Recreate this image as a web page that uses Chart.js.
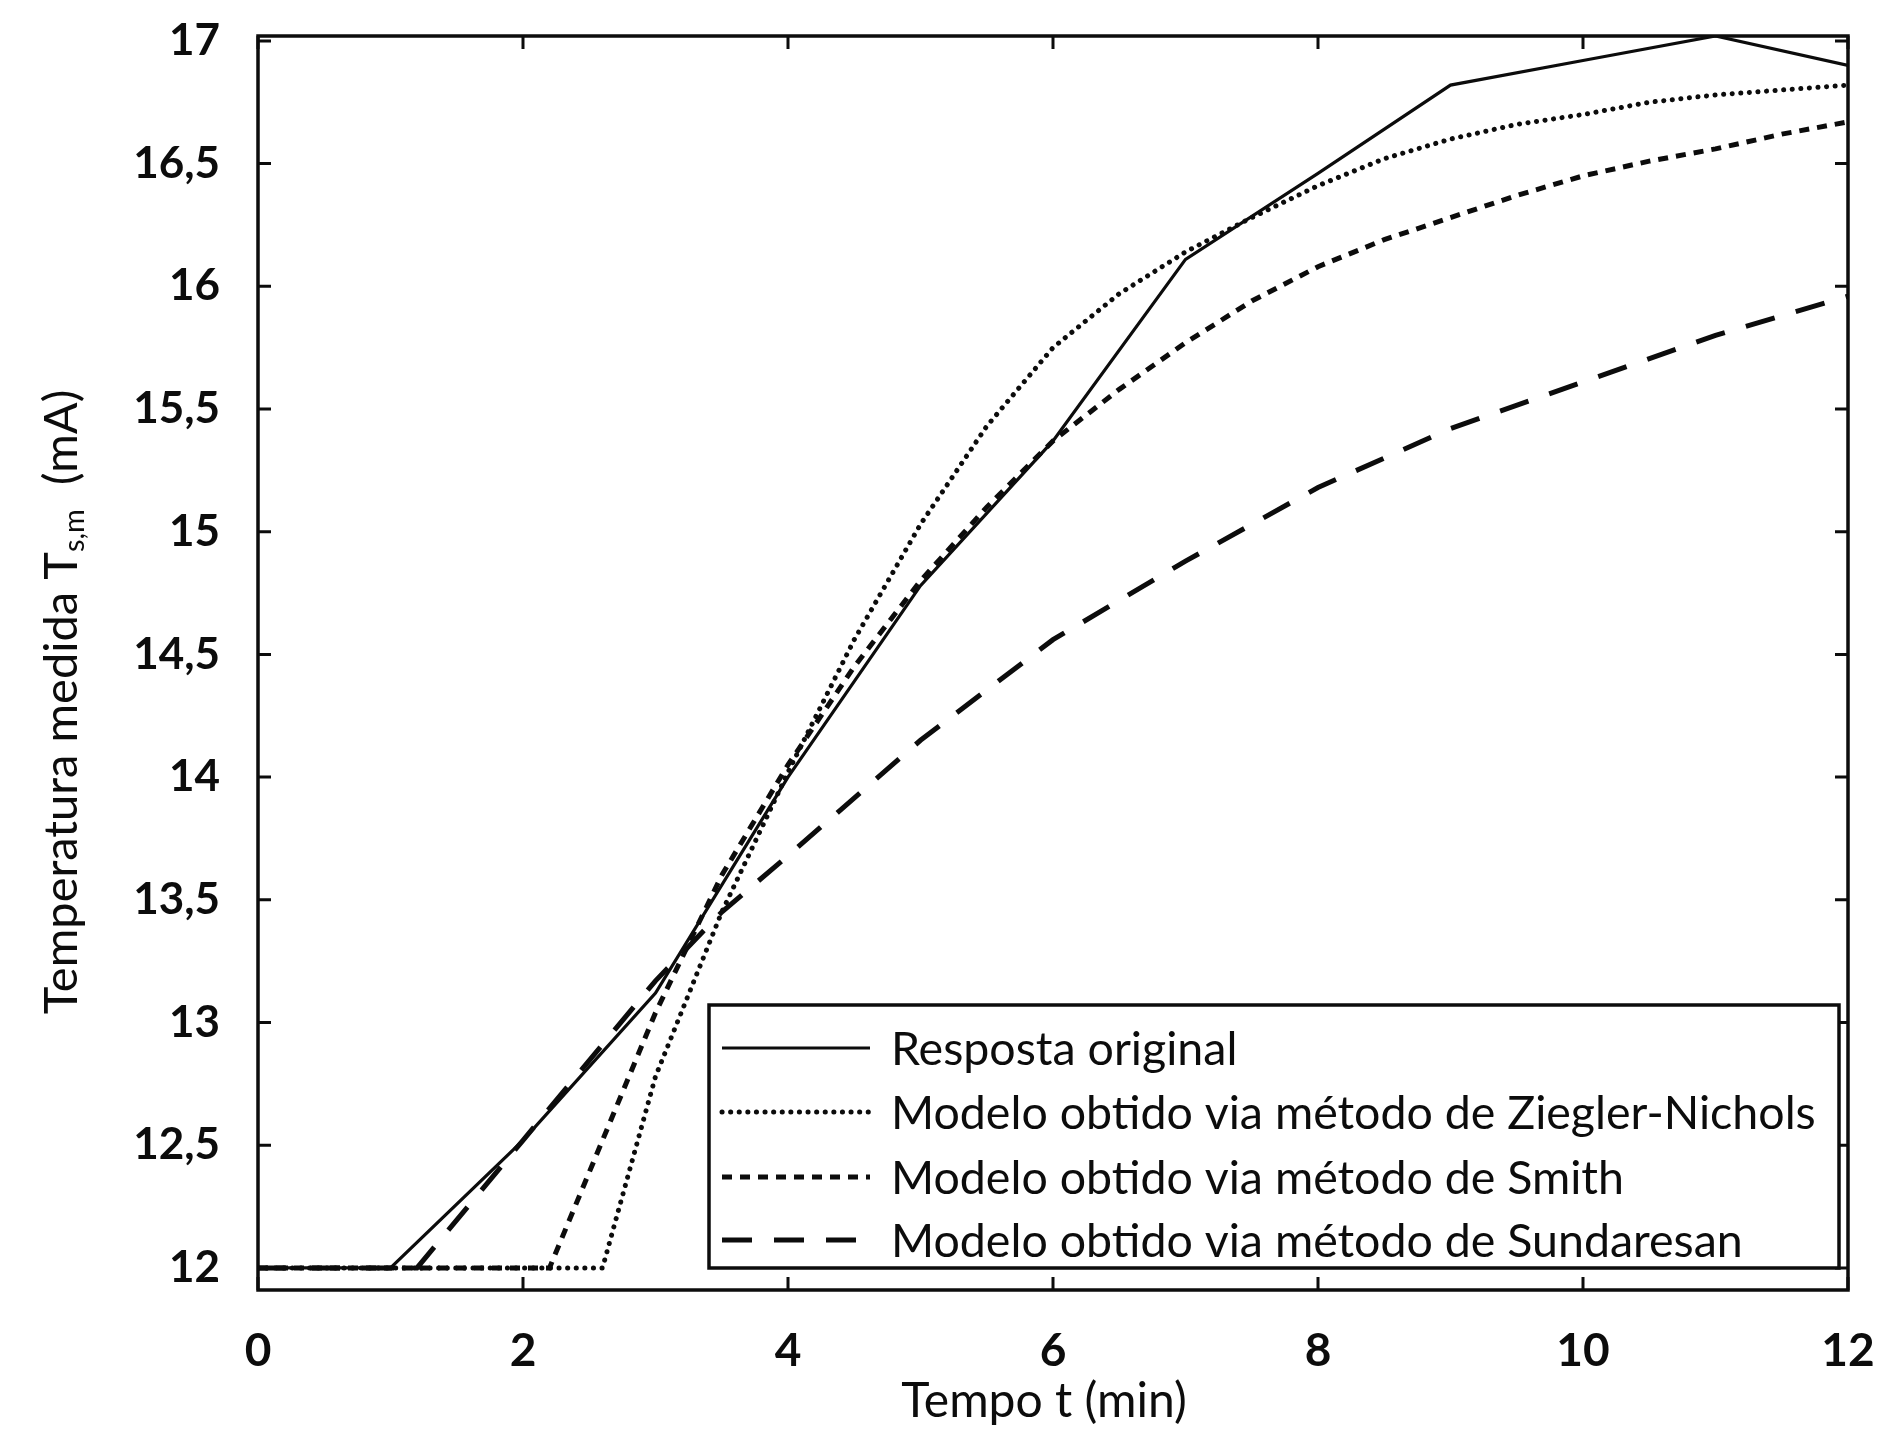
<!DOCTYPE html>
<html>
<head>
<meta charset="utf-8">
<script src="https://cdn.jsdelivr.net/npm/chart.js@4/dist/chart.umd.min.js"></script>
<style>
  html, body { margin: 0; padding: 0; background: #fff; }
  #wrap { width: 1881px; height: 1429px; }
</style>
</head>
<body>
<div id="wrap"><canvas id="resp" width="1881" height="1429"></canvas></div>
<script>
/* ── DADOS ─────────────────────────────────────────────── */
const tempoOriginal = [0, 1, 2, 3, 4, 5, 6, 7, 8, 9, 10, 11, 12];
const respostaOriginal = [12, 12, 12.52, 13.12, 14.0, 14.78, 15.37, 16.11, 16.46, 16.82, 16.92, 17.02, 16.9];

const tempoZN = [0, 2.6, 3, 3.5, 4, 4.5, 5, 5.5, 6, 6.5, 7, 7.5, 8, 8.5, 9, 9.5, 10, 10.5, 11, 11.5, 12];
const zieglerNichols = [12, 12, 12.78, 13.45, 14.02, 14.56, 15.03, 15.43, 15.75, 15.97, 16.14, 16.28, 16.41, 16.52, 16.6, 16.66, 16.7, 16.75, 16.78, 16.8, 16.82];

const tempoSmith = [0, 2.2, 2.5, 3, 3.5, 4, 4.5, 5, 5.5, 6, 6.5, 7, 7.5, 8, 8.5, 9, 9.5, 10, 10.5, 11, 11.5, 12];
const smith = [12, 12, 12.39, 13.04, 13.6, 14.05, 14.45, 14.8, 15.1, 15.37, 15.58, 15.77, 15.94, 16.08, 16.19, 16.28, 16.37, 16.45, 16.51, 16.56, 16.62, 16.67];

const tempoSund = [0, 1.2, 2, 3, 3.5, 4, 5, 6, 7, 8, 9, 10, 11, 12];
const sundaresan = [12, 12, 12.52, 13.17, 13.45, 13.68, 14.15, 14.56, 14.88, 15.18, 15.42, 15.61, 15.8, 15.96];

const xTicks = [0, 2, 4, 6, 8, 10, 12];
const yTicks = [12, 12.5, 13, 13.5, 14, 14.5, 15, 15.5, 16, 16.5, 17];

const FONT = 'Lato';
const INK = '#0c0c0c';

const pts = (ts, vs) => ts.map((t, i) => ({ x: t, y: vs[i] }));
const virgula = v => String(v).replace('.', ',');

/* ── MOLDURA, MARCAS, LEGENDA E TÍTULOS ───────────────── */
const moldura = {
  id: 'moldura',
  afterDraw(chart) {
    const { ctx, chartArea: a, scales: { x, y } } = chart;
    ctx.save();
    ctx.strokeStyle = INK;
    ctx.setLineDash([]);

    // caixa do gráfico
    ctx.lineWidth = 3.5;
    ctx.strokeRect(a.left, a.top, a.right - a.left, a.bottom - a.top);

    // marcas para dentro, nos quatro lados
    const tl = 13;
    ctx.lineWidth = 3;
    ctx.beginPath();
    xTicks.forEach(v => {
      const px = x.getPixelForValue(v);
      ctx.moveTo(px, a.bottom); ctx.lineTo(px, a.bottom - tl);
      ctx.moveTo(px, a.top);    ctx.lineTo(px, a.top + tl);
    });
    yTicks.forEach(v => {
      const py = y.getPixelForValue(v);
      ctx.moveTo(a.left, py);  ctx.lineTo(a.left + tl, py);
      ctx.moveTo(a.right, py); ctx.lineTo(a.right - tl, py);
    });
    ctx.stroke();

    // legenda
    const box = { l: 709, t: 1005, r: 1839, b: 1268 };
    ctx.fillStyle = '#fff';
    ctx.fillRect(box.l, box.t, box.r - box.l, box.b - box.t);
    ctx.lineWidth = 3.5;
    ctx.strokeRect(box.l, box.t, box.r - box.l, box.b - box.t);

    const rows = [1048, 1112, 1177, 1240];
    ctx.font = `46.5px ${FONT}`;
    ctx.textBaseline = 'middle';
    ctx.textAlign = 'left';
    chart.data.datasets.forEach((ds, i) => {
      const ry = rows[i];
      ctx.save();
      ctx.lineWidth = ds.borderWidth;
      ctx.lineCap = ds.borderCapStyle || 'butt';
      ctx.setLineDash(ds.borderDash || []);
      ctx.strokeStyle = ds.borderColor;
      ctx.beginPath();
      ctx.moveTo(722, ry); ctx.lineTo(870, ry);
      ctx.stroke();
      ctx.restore();
      ctx.fillStyle = INK;
      ctx.fillText(ds.label, 891, ry + 2);
    });

    // título do eixo x
    ctx.fillStyle = INK;
    ctx.textAlign = 'center';
    ctx.font = `48px ${FONT}`;
    ctx.fillText('Tempo t (min)', 1044, 1402);

    // título do eixo y, com índice s,m
    ctx.translate(62, 702);
    ctx.rotate(-Math.PI / 2);
    const big = `47px ${FONT}`, small = `29px ${FONT}`;
    const p1 = 'Temperatura medida T', p2 = 's,m', p3 = '  (mA)';
    ctx.font = big;  const w1 = ctx.measureText(p1).width, w3 = ctx.measureText(p3).width;
    ctx.font = small; const w2 = ctx.measureText(p2).width;
    let cx = -(w1 + w2 + w3) / 2;
    ctx.textAlign = 'left';
    ctx.font = big;   ctx.fillText(p1, cx, 0); cx += w1;
    ctx.font = small; ctx.fillText(p2, cx, 13); cx += w2;
    ctx.font = big;   ctx.fillText(p3, cx, 0);
    ctx.restore();
  }
};

/* ── GRÁFICO ───────────────────────────────────────────── */
new Chart(document.getElementById('resp'), {
  type: 'line',
  data: {
    datasets: [
      { label: 'Resposta original', data: pts(tempoOriginal, respostaOriginal),
        borderColor: INK, borderWidth: 3.2 },
      { label: 'Modelo obtido via método de Ziegler-Nichols', data: pts(tempoZN, zieglerNichols),
        borderColor: INK, borderWidth: 5, borderDash: [0.1, 8.5], borderCapStyle: 'round' },
      { label: 'Modelo obtido via método de Smith', data: pts(tempoSmith, smith),
        borderColor: INK, borderWidth: 5, borderDash: [10, 8] },
      { label: 'Modelo obtido via método de Sundaresan', data: pts(tempoSund, sundaresan),
        borderColor: INK, borderWidth: 5, borderDash: [30, 22] },
    ],
  },
  options: {
    responsive: false,
    devicePixelRatio: 1,
    animation: false,
    layout: { padding: { left: 0, top: 36, right: 33, bottom: 0 } },
    elements: { point: { radius: 0 }, line: { tension: 0, fill: false } },
    plugins: { legend: { display: false }, tooltip: { enabled: false } },
    scales: {
      x: {
        type: 'linear', min: 0, max: 12,
        afterBuildTicks: s => { s.ticks = xTicks.map(v => ({ value: v })); },
        afterFit: s => { s.height = 139; s.paddingLeft = 0; s.paddingRight = 0; },
        grid: { display: false }, border: { display: false },
        ticks: { color: INK, padding: 26, maxRotation: 0, font: { family: FONT, size: 46, weight: 'bold' }, callback: virgula },
      },
      y: {
        type: 'linear', min: 11.91, max: 17.02,
        afterBuildTicks: s => { s.ticks = yTicks.map(v => ({ value: v })); },
        afterFit: s => { s.width = 258; s.paddingTop = 0; s.paddingBottom = 0; },
        grid: { display: false }, border: { display: false },
        ticks: { color: INK, padding: 30, font: { family: FONT, size: 44, weight: 'bold' }, callback: virgula },
      },
    },
  },
  plugins: [moldura],
});
</script>
</body>
</html>
